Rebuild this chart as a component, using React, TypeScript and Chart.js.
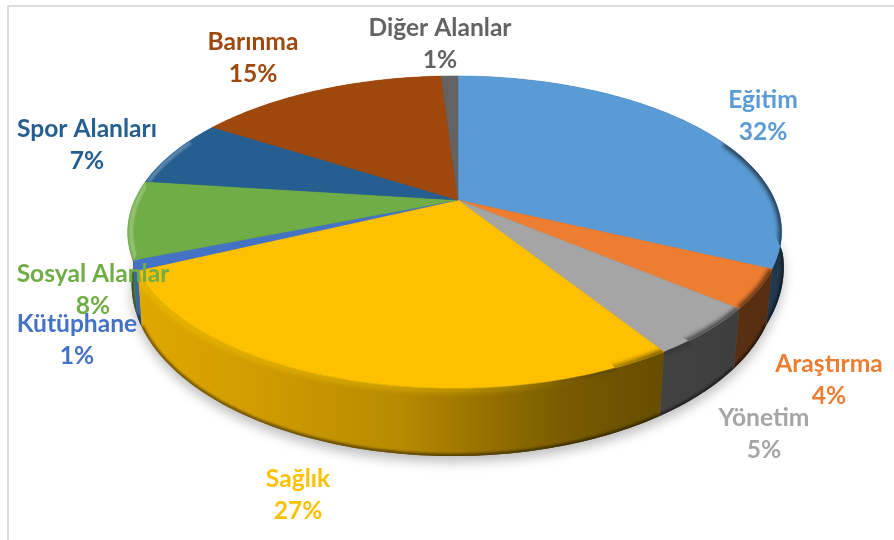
import React, { useEffect, useRef } from "react";
import { Chart, registerables } from "chart.js";

Chart.register(...registerables);

const categories = ["Eğitim", "Araştırma", "Yönetim", "Sağlık", "Kütüphane", "Sosyal Alanlar", "Spor Alanları", "Barınma", "Diğer Alanlar"];
const shares = [32, 4, 5, 27, 1, 8, 7, 15, 1];
const colors = ["#5B9BD5", "#ED7D31", "#A5A5A5", "#FFC000", "#4472C4", "#70AD47", "#255E91", "#9E480E", "#636363"];
// label centres (x, y of the first line)
const labelX = [763, 829, 764, 298, 77, 93, 87, 253, 440];
const labelY = [100, 364, 418, 479, 324, 274, 129, 42, 28];

const FONT = "bold 24.6px Lato, Carlito, 'Open Sans', sans-serif";

type Pt = { x: number; y: number };
const clamp = (v: number, a = 0, b = 1) => Math.max(a, Math.min(b, v));

// perspective projection of the unit pie onto the page
function topPt(a: number, r = 1): Pt {
  const x = Math.cos(a) * r;
  const y = Math.sin(a) * r;
  const w = 1 - 0.205 * y + 0.01 * x;
  return { x: 458 + (320 * x) / w, y: 200 + (149.5 * y) / w };
}
function botPt(a: number): Pt {
  const x = Math.cos(a);
  const y = Math.sin(a);
  const w = 1 - 0.205 * y + 0.01 * x;
  const t = topPt(a);
  const bump = x > 0 ? 12 * clamp((0.426 - y) / 0.4) : 0;
  return { x: 457 + 0.985 * (t.x - 458) + bump, y: 248.5 + (165 * y) / w };
}
function rgb(hex: string) {
  const n = parseInt(hex.slice(1), 16);
  return [(n >> 16) & 255, (n >> 8) & 255, n & 255];
}
function shade(hex: string, f: number, alpha = 1) {
  const [r, g, b] = rgb(hex);
  return `rgba(${Math.round(r * f)},${Math.round(g * f)},${Math.round(b * f)},${alpha})`;
}
function light(hex: string, t: number, alpha = 1) {
  const [r, g, b] = rgb(hex);
  const m = (c: number) => Math.round(c + (255 - c) * t);
  return `rgba(${m(r)},${m(g)},${hex === "#FFC000" ? 0 : m(b)},${alpha})`;
}
const wallStops: [number, number][] = [
  [130, 0.88],
  [250, 0.82],
  [400, 0.72],
  [480, 0.6],
  [560, 0.48],
  [660, 0.4],
  [790, 0.36],
];

const pie3d = {
  id: "pie3d",
  beforeDatasetsDraw(chart: any) {
    const ctx: CanvasRenderingContext2D = chart.ctx;
    const arcs = chart.getDatasetMeta(0).data;
    const STEP = Math.PI / 180;
    const rangeOf = (arc: any) => {
      const out: number[] = [];
      const n = Math.max(2, Math.ceil((arc.endAngle - arc.startAngle) / STEP));
      for (let i = 0; i <= n; i++) out.push(arc.startAngle + ((arc.endAngle - arc.startAngle) * i) / n);
      return out;
    };
    const trace = (angles: number[], f: (a: number) => Pt, start = true) => {
      angles.forEach((a, i) => {
        const p = f(a);
        i === 0 && start ? ctx.moveTo(p.x, p.y) : ctx.lineTo(p.x, p.y);
      });
    };

    ctx.save();
    // frame
    ctx.fillStyle = "#dcdcdc";
    ctx.fillRect(7, 5, 887, 2);
    ctx.fillRect(7, 5, 2, 535);

    // ground shadow
    ctx.save();
    ctx.shadowColor = "rgba(0,0,0,0.26)";
    ctx.shadowBlur = 12;
    ctx.shadowOffsetY = 6;
    ctx.fillStyle = "#555";
    ctx.beginPath();
    for (let i = 0; i <= 360; i += 2) {
      const p = botPt((i * Math.PI) / 180);
      i === 0 ? ctx.moveTo(p.x, p.y) : ctx.lineTo(p.x, p.y);
    }
    ctx.closePath();
    ctx.fill();
    ctx.restore();

    // walls
    arcs.forEach((arc: any, idx: number) => {
      const base = colors[idx];
      const angles = rangeOf(arc);
      const grad = ctx.createLinearGradient(130, 0, 790, 0);
      wallStops.forEach(([x, f]) => grad.addColorStop((x - 130) / 660, shade(base, f)));
      ctx.save();
      ctx.beginPath();
      trace(angles, (a) => topPt(a));
      trace([...angles].reverse(), botPt, false);
      ctx.closePath();
      ctx.fillStyle = grad;
      ctx.fill();
      ctx.clip();
      ctx.filter = "blur(1px)";
      ctx.beginPath();
      trace(angles, botPt);
      ctx.lineWidth = 5;
      ctx.strokeStyle = "rgba(0,0,0,0.45)";
      ctx.stroke();
      ctx.restore();
    });

    // top faces
    arcs.forEach((arc: any, idx: number) => {
      ctx.beginPath();
      ctx.moveTo(458, 200);
      trace(rangeOf(arc), (a) => topPt(a), false);
      ctx.closePath();
      ctx.fillStyle = colors[idx];
      ctx.strokeStyle = colors[idx];
      ctx.lineWidth = 0.5;
      ctx.fill();
      ctx.stroke();
    });

    // soft bevel along the rim: light on the left, dark on the right
    arcs.forEach((arc: any, idx: number) => {
      const base = colors[idx];
      const angles = rangeOf(arc);
      const visible = angles.filter((a) => Math.sin(a) > -0.42);
      if (visible.length < 2) return;
      ctx.save();
      ctx.beginPath();
      ctx.moveTo(458, 200);
      trace(angles, (a) => topPt(a), false);
      trace([...angles].reverse(), botPt, false);
      ctx.closePath();
      ctx.clip();

      const mkLight = (t: number, a0: number) => {
        const g = ctx.createLinearGradient(120, 0, 600, 0);
        g.addColorStop(0, light(base, t, a0));
        g.addColorStop(0.72, light(base, t, a0 * 0.85));
        g.addColorStop(1, light(base, t, 0));
        return g;
      };
      // wide glow reaching onto the wall
      ctx.filter = "blur(2.5px)";
      ctx.beginPath();
      trace(visible, (a) => topPt(a, 1.008));
      ctx.lineWidth = 6;
      ctx.strokeStyle = mkLight(0.2, 0.4);
      ctx.stroke();
      // bright core slightly inside the rim
      ctx.filter = "blur(1px)";
      ctx.beginPath();
      trace(visible, (a) => topPt(a, 0.99));
      ctx.lineWidth = 3.5;
      ctx.strokeStyle = mkLight(base === "#FFC000" ? 0.8 : 0.3, 0.95);
      ctx.stroke();

      const darkGrad = ctx.createLinearGradient(530, 0, 790, 0);
      darkGrad.addColorStop(0, shade(base, 0.3, 0));
      darkGrad.addColorStop(0.5, shade(base, 0.3, 0.8));
      darkGrad.addColorStop(1, shade(base, 0.3, 0.9));
      ctx.filter = "blur(2px)";
      ctx.beginPath();
      trace(visible, (a) => topPt(a, 1.0));
      ctx.lineWidth = 6;
      ctx.strokeStyle = darkGrad;
      ctx.stroke();
      ctx.restore();
    });

    // labels
    ctx.font = FONT;
    ctx.textAlign = "center";
    ctx.textBaseline = "middle";
    categories.forEach((name, i) => {
      ctx.fillStyle = colors[i];
      ctx.fillText(name, labelX[i], labelY[i]);
      ctx.fillText(`${shares[i]}%`, labelX[i], labelY[i] + 32);
    });
    ctx.restore();
    return false;
  },
};

export default function App() {
  const ref = useRef<HTMLCanvasElement>(null);
  useEffect(() => {
    document.body.style.margin = "0";
    document.body.style.background = "#fff";
    const chart = new Chart(ref.current!, {
      type: "pie",
      data: {
        labels: categories,
        datasets: [{ data: shares, backgroundColor: colors, borderWidth: 0 }],
      },
      options: {
        responsive: false,
        animation: false,
        rotation: 0,
        plugins: { legend: { display: false }, tooltip: { enabled: false } },
      },
      plugins: [pie3d],
    } as any);
    return () => chart.destroy();
  }, []);
  return <canvas ref={ref} width={894} height={540} style={{ display: "block" }} />;
}
